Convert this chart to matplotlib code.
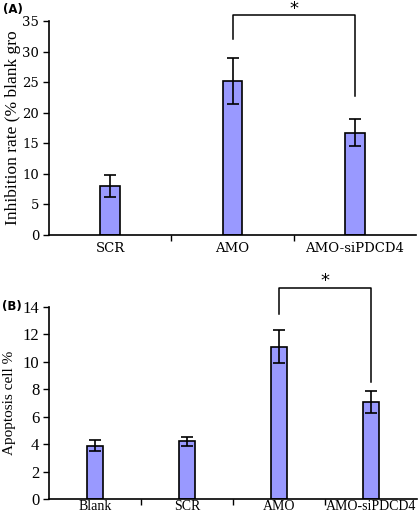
import numpy as np
import matplotlib
matplotlib.use('Agg')
import matplotlib.pyplot as plt

# panel A: inhibition rate
groups_a = ['SCR', 'AMO', 'AMO-siPDCD4']
inhib = [8.0, 25.2, 16.7]
inhib_err = [1.8, 3.8, 2.2]
yticks_a = [0, 5, 10, 15, 20, 25, 30, 35]

# panel B: apoptosis
groups_b = ['Blank', 'SCR', 'AMO', 'AMO-siPDCD4']
apop = [3.9, 4.2, 11.1, 7.1]
apop_err = [0.4, 0.3, 1.2, 0.8]
yticks_b = [0, 2, 4, 6, 8, 10, 12, 14]

barcol = '#9999ff'
serif = 'Liberation Serif'


def bar_panel(ax, groups, vals, errs, yticks, width, fam, xsize, ysize, xpad):
    x = np.arange(len(groups))
    ax.bar(x, vals, width=width, color=barcol, edgecolor='black', linewidth=1.2)
    ax.errorbar(x, vals, yerr=errs, fmt='none', ecolor='black', elinewidth=1.2,
                capsize=4, capthick=1.2)
    ax.set_xlim(-0.5, len(groups) - 0.5)
    ax.set_ylim(yticks[0], yticks[-1])
    ax.set_yticks(yticks)
    ax.set_xticks(x)
    ax.set_xticklabels(groups, family=fam, fontsize=xsize)
    ax.set_xticks(np.arange(0.5, len(groups) - 0.5), minor=True)
    ax.tick_params(axis='x', which='major', length=0, pad=xpad)
    ax.tick_params(axis='x', which='minor', length=4, width=1, direction='out')
    ax.tick_params(axis='y', length=4, width=1, direction='out', pad=3)
    for lab in ax.get_yticklabels():
        lab.set_family(fam)
        lab.set_fontsize(ysize)
    ax.spines['top'].set_visible(False)
    ax.spines['right'].set_visible(False)
    for s in ['left', 'bottom']:
        ax.spines[s].set_linewidth(1.2)
    return x


def bracket(ax, x1, x2, y1, y2, ytop, ystar):
    ax.plot([x1, x1, x2, x2], [y1, ytop, ytop, y2], color='black', lw=1.1,
            clip_on=False)
    ax.text((x1 + x2) / 2, ystar, '*', ha='center', va='baseline',
            fontsize=13, clip_on=False)


fig = plt.figure(figsize=(4.19, 5.15), dpi=100)

ax1 = fig.add_axes([0.117, 0.544, 0.876, 0.415])
xa = bar_panel(ax1, groups_a, inhib, inhib_err, yticks_a, 0.16,
               'DejaVu Serif', 9.5, 9.5, 5)
ax1.set_ylabel('Inhibition rate (% blank gro', family=serif, fontsize=12.5,
               labelpad=1)
bracket(ax1, xa[1], xa[2], 32.0, 22.7, 36.0, 36.2)
fig.text(0.006, 0.982, '(A)', fontsize=8.5, fontweight='bold', va='center')

ax2 = fig.add_axes([0.117, 0.031, 0.878, 0.373])
xb = bar_panel(ax2, groups_b, apop, apop_err, yticks_b, 0.18,
               serif, 10, 12, 1)
ax2.set_ylabel('Apoptosis cell %', family=serif, fontsize=11, labelpad=5)
bracket(ax2, xb[2], xb[3], 13.5, 8.5, 15.4, 15.5)
fig.text(0.004, 0.404, '(B)', fontsize=8.5, fontweight='bold', va='center')

fig.savefig('out.png', dpi=100)
